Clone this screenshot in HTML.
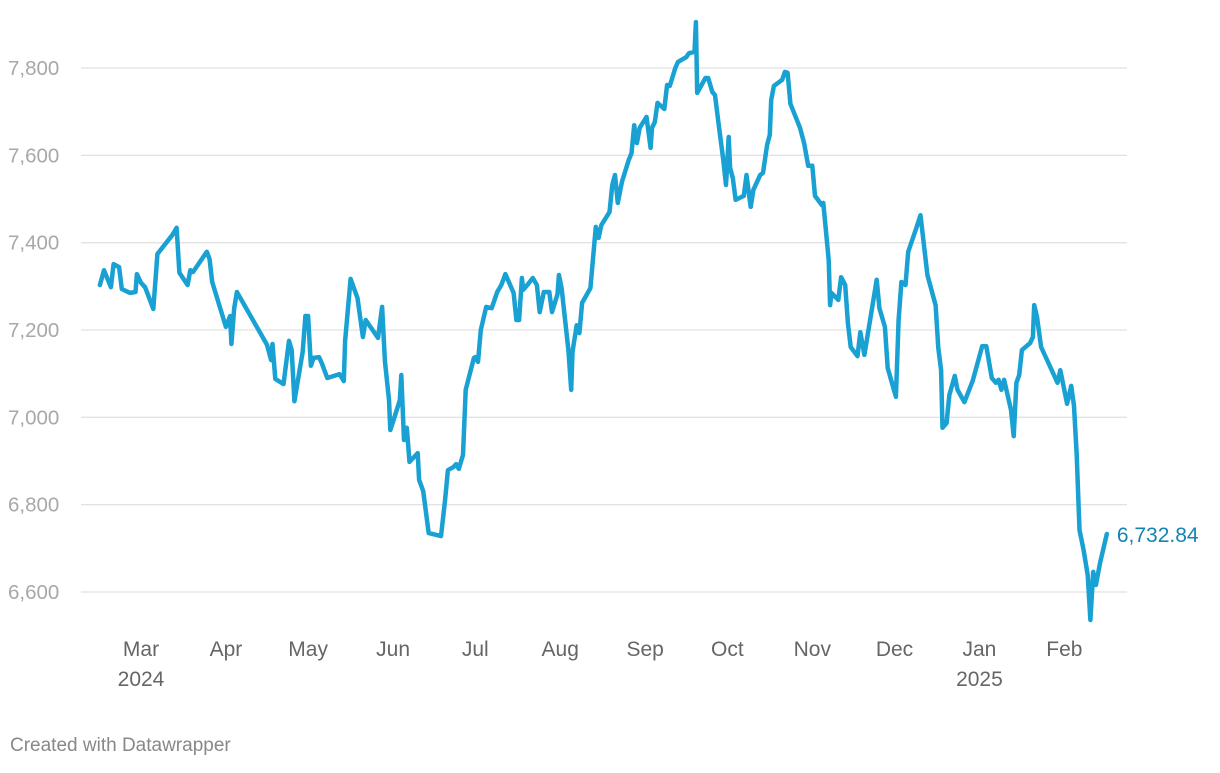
<!DOCTYPE html>
<html><head><meta charset="utf-8"><style>
body{margin:0;background:#fff;width:1220px;height:768px;overflow:hidden;font-family:"Liberation Sans",sans-serif}
svg text{font-family:"Liberation Sans",sans-serif}
</style></head><body>
<svg id="chart" width="1220" height="768" xmlns="http://www.w3.org/2000/svg">
<g id="grid"></g>
<g id="yaxis"></g>
<g id="xaxis"></g>
<g id="series"></g>
<text x="10" y="751" font-size="19" fill="#888">Created with Datawrapper</text>
</svg>
<script>
const days=[-15,-13.5,-11,-10,-8,-7,-4,-2,-1.5,0,1.5,3,4.5,5.5,6,11.5,13,14,17,18,19,24,25,26,31,32.5,33,34,35,46,47.5,48,49,52,54,55,56,59,60,61,62,63,65,66,68,72.5,74,74.5,76.5,79,81,82,86.5,88,89,90.5,91,93,94.5,95,96,97,98,101,101.5,103,105,109.5,111,112,114,115,116,117.5,118.5,121.5,122,123,124,126,128,130,131.5,133,136,137,138,139,139.5,141,143,144.5,145.5,147,149,150,152,152.5,153.5,156,157,157.5,159,160,161,164,166,167,168,171,172,173,174,175.5,178,179,180,181,182,184.5,186,186.5,187.5,188.5,191,192,193,195,196,199,200,202,202.5,203,206,207,208.5,209.5,211,212.5,213.5,214.5,215,216,217,220,221,222.5,223.5,226,227,228.5,229.5,230,231,234,235,236,237,240.5,242,243.5,245,246,248.5,249,251,251.5,252,254.5,255.5,257,258,259,261.5,262.5,264,268.5,269.5,271.5,272.5,275.5,276.5,277.5,279,280,283,284.5,287,290,291,292,292.5,294,295,297,298,300.5,303.5,307,308.5,310.5,312,313,314,315,317.5,318.5,319.5,320.5,321.5,324.5,325.5,326,327,328.5,334.5,335.5,338,339.5,340.5,341.5,342.5,344,345.5,346.5,347.5,348.5,350,352.5];
const values=[7303,7337,7298,7351,7344,7294,7285,7287,7328,7308,7298,7273,7248,7333,7374,7418,7434,7331,7303,7337,7333,7379,7363,7310,7207,7232,7168,7250,7287,7166,7131,7168,7088,7076,7175,7154,7037,7150,7232,7232,7118,7136,7138,7124,7090,7099,7083,7175,7317,7273,7184,7223,7182,7253,7129,7040,6971,7010,7040,7097,6948,6976,6898,6918,6857,6831,6735,6728,6811,6879,6886,6893,6882,6914,7063,7136,7138,7127,7200,7253,7250,7287,7303,7328,7285,7223,7223,7319,7292,7303,7319,7303,7241,7287,7287,7241,7282,7326,7296,7154,7063,7150,7211,7193,7262,7296,7436,7411,7440,7470,7532,7555,7491,7539,7589,7605,7669,7628,7663,7688,7617,7663,7676,7720,7706,7761,7759,7800,7814,7825,7834,7837,7905,7743,7777,7777,7745,7738,7663,7589,7532,7642,7571,7548,7498,7507,7555,7482,7521,7555,7560,7624,7647,7727,7759,7773,7791,7789,7718,7663,7628,7576,7576,7507,7486,7491,7360,7257,7285,7269,7321,7303,7216,7161,7140,7195,7143,7315,7250,7207,7113,7047,7223,7310,7303,7379,7434,7463,7326,7257,7159,7108,6976,6987,7051,7095,7063,7035,7083,7163,7163,7090,7079,7086,7063,7086,7017,6957,7079,7097,7154,7170,7184,7257,7230,7161,7079,7108,7031,7072,7026,6914,6742,6696,6639,6536,6646,6616,6666,6732.84];
const yTicks=[6600,6800,7000,7200,7400,7600,7800];
const monthLabels=["Mar","Apr","May","Jun","Jul","Aug","Sep","Oct","Nov","Dec","Jan","Feb"];
const monthDays=[0,31,61,92,122,153,184,214,245,275,306,337];
const yearLabels=[["2024",0],["2025",306]];
const lastLabel="6,732.84";

const NS="http://www.w3.org/2000/svg";
const X=d=>141+d*2.74;
const Y=v=>68+(7800-v)*0.43667;
function mk(tag,attrs,parent,txt){const e=document.createElementNS(NS,tag);for(const k in attrs)e.setAttribute(k,attrs[k]);if(txt!==undefined)e.textContent=txt;parent.appendChild(e);return e;}
const grid=document.getElementById('grid'),ya=document.getElementById('yaxis'),xa=document.getElementById('xaxis'),ser=document.getElementById('series');
yTicks.forEach(t=>{
  const l=mk('line',{x1:81,x2:1127,y1:Y(t),y2:Y(t),stroke:'#e2e2e2','stroke-width':1.3},grid);
  
  
  const tx=mk('text',{x:8,y:Y(t)+7,'font-size':20.5,fill:'#a8a8a8'},ya,t.toLocaleString('en-US'));
  
  
});
monthLabels.forEach((m,i)=>{
  const tx=mk('text',{x:X(monthDays[i]),y:656,'font-size':21,fill:'#666','text-anchor':'middle'},xa,m);
  
  
});
yearLabels.forEach(([yr,d])=>{
  const tx=mk('text',{x:X(d),y:686,'font-size':21,fill:'#666','text-anchor':'middle'},xa,yr);
  
  
});
const pts=days.map((d,i)=>X(d).toFixed(1)+','+Y(values[i]).toFixed(1)).join(' ');
const pl=mk('polyline',{points:pts,fill:'none',stroke:'#18a1d2','stroke-width':4.5,'stroke-linejoin':'round','stroke-linecap':'round'},ser);


const n=days.length-1;
const lb=mk('text',{x:X(days[n])+10,y:Y(values[n])+8,'font-size':21,fill:'#1485b0'},ser,lastLabel);


</script>
</body></html>
